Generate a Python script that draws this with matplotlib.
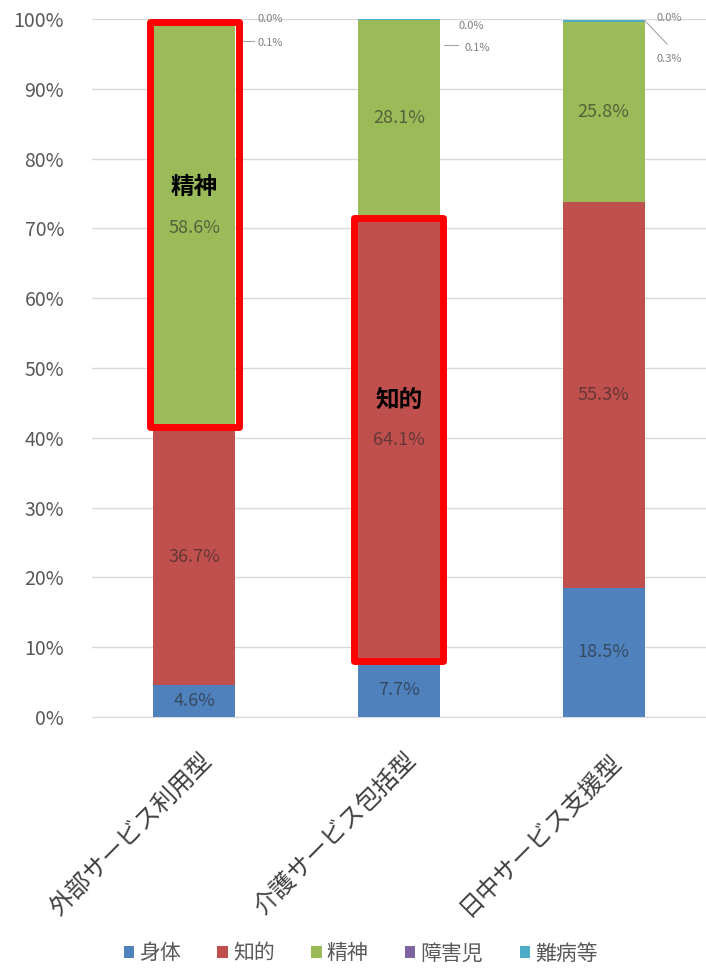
import matplotlib
matplotlib.use("Agg")
import matplotlib.pyplot as plt
from matplotlib.patches import Rectangle
from matplotlib.transforms import ScaledTranslation
import numpy as np

plt.rcParams['font.family'] = ['Noto Sans CJK JP', 'DejaVu Sans']

categories = ['外部サービス利用型', '介護サービス包括型', '日中サービス支援型']
series_names = ['身体', '知的', '精神', '障害児', '難病等']
shintai = [4.6, 7.7, 18.5]
chiteki = [36.7, 64.1, 55.3]
seishin = [58.6, 28.1, 25.8]
shogaiji = [0.0, 0.0, 0.0]
nanbyo = [0.1, 0.1, 0.3]
y_ticks = [0, 10, 20, 30, 40, 50, 60, 70, 80, 90, 100]

colors = ['#4F81BD', '#C0504D', '#9BBB59', '#8064A2', '#4BACC6']
series = [shintai, chiteki, seishin, shogaiji, nanbyo]

fig = plt.figure(figsize=(7.06, 9.68), dpi=100)
ax = fig.add_axes([0.130, 0.2593, 0.870, 0.7211])

x = np.arange(len(categories))
width = 0.4
bottom = np.zeros(len(categories))
bottoms = []
for vals, col, name in zip(series, colors, series_names):
    vals = np.array(vals)
    ax.bar(x, vals, width, bottom=bottom, color=col, label=name, zorder=2)
    bottoms.append(bottom.copy())
    bottom = bottom + vals

# value labels inside the three main segments
for si in range(3):
    for i in range(len(categories)):
        v = series[si][i]
        yc = bottoms[si][i] + v / 2
        dy = -0.5 if si == 2 and i == 0 else 0
        ax.text(x[i], yc + dy, f'{v:.1f}%', ha='center', va='center',
                fontsize=13, color='#262626', alpha=0.6, zorder=4)

# small labels for the thin top segments
small_col = '#7f7f7f'
lead_col = '#a6a6a6'
ax.text(x[0] + 0.31, 100.0, f'{shogaiji[0]:.1f}%', ha='left', va='center',
        fontsize=8, color=small_col, zorder=4)
ax.text(x[0] + 0.31, 96.6, f'{nanbyo[0]:.1f}%', ha='left', va='center',
        fontsize=8, color=small_col, zorder=4)
ax.plot([x[0] + 0.24, x[0] + 0.29], [96.8, 96.8], color=lead_col, lw=0.8)
ax.text(x[1] + 0.29, 99.0, f'{shogaiji[1]:.1f}%', ha='left', va='center',
        fontsize=8, color=small_col, zorder=4)
ax.text(x[1] + 0.32, 95.8, f'{nanbyo[1]:.1f}%', ha='left', va='center',
        fontsize=8, color=small_col, zorder=4)
ax.plot([x[1] + 0.22, x[1] + 0.29], [96.3, 96.3], color=lead_col, lw=0.8)
ax.text(x[2] + 0.26, 100.2, f'{shogaiji[2]:.1f}%', ha='left', va='center',
        fontsize=8, color=small_col, zorder=4)
ax.text(x[2] + 0.26, 94.2, f'{nanbyo[2]:.1f}%', ha='left', va='center',
        fontsize=8, color=small_col, zorder=4)
ax.plot([x[2] + 0.2, x[2] + 0.31], [99.8, 96.4], color=lead_col, lw=0.8)

# red highlight boxes
pad = 0.017
box_lw = 5
def highlight(i, si, label, dy):
    b = bottoms[si][i]
    h = series[si][i]
    ax.add_patch(Rectangle((x[i] - width / 2 - pad, b + 0.3), width + 2 * pad, h - 0.6,
                           fill=False, edgecolor='#FF0000', lw=box_lw, zorder=5,
                           joinstyle='round'))
    ax.text(x[i], b + h / 2 + dy, label, ha='center', va='center',
            fontsize=17, fontweight='bold', color='black', zorder=6)

highlight(0, 2, '精神', 5.3)
highlight(1, 1, '知的', 5.6)

ax.set_ylim(0, 100)
ax.set_xlim(-0.5, 2.5)
ax.set_yticks(y_ticks)
ax.set_yticklabels([f'{t}%' for t in y_ticks])
ax.yaxis.grid(True, color='#d9d9d9', lw=1, zorder=0)
ax.set_axisbelow(True)
for s in ['top', 'right', 'left']:
    ax.spines[s].set_visible(False)
ax.spines['bottom'].set_color('#d9d9d9')
ax.tick_params(axis='y', length=0, pad=20, labelsize=14, labelcolor='#595959')
ax.tick_params(axis='x', length=0, pad=22)
ax.set_xticks(x)
ax.set_xticklabels(categories, rotation=45, ha='right', va='top',
                   rotation_mode='anchor', fontsize=17.5, color='#404040')
shift = ScaledTranslation(5 / 100, 0, fig.dpi_scale_trans)
for lbl in ax.get_xticklabels():
    lbl.set_transform(lbl.get_transform() + shift)

handles, labels = ax.get_legend_handles_labels()
fig.legend(handles, labels, loc='center', bbox_to_anchor=(0.511, 0.015), ncol=5,
           frameon=False, fontsize=15, handlelength=0.5, handleheight=0.5,
           handletextpad=0.25, columnspacing=1.75, labelcolor='#595959')

fig.savefig('out.png', dpi=100)
